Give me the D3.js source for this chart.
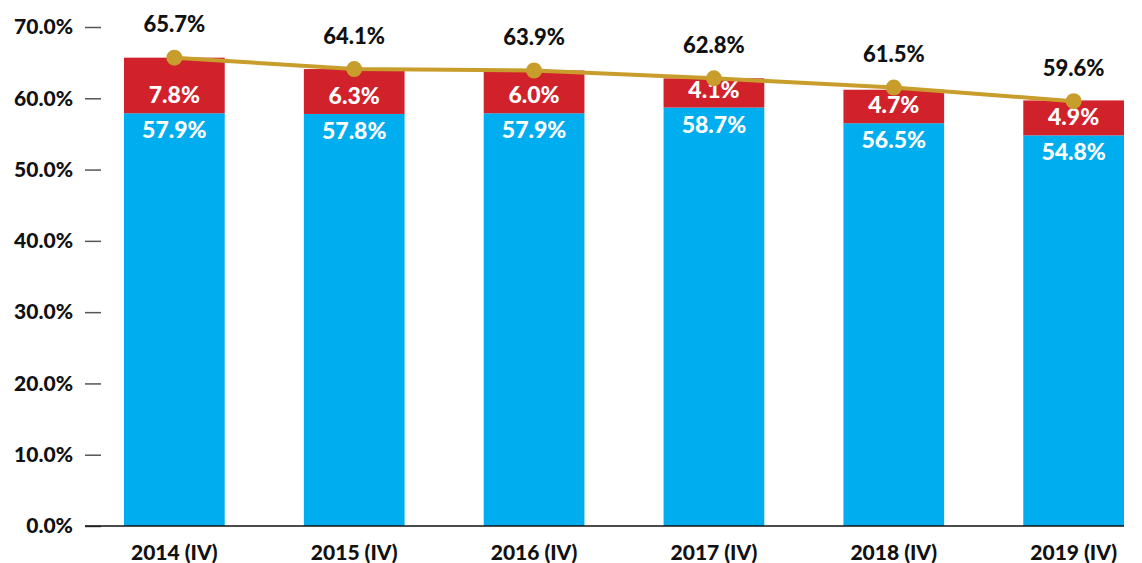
<!DOCTYPE html>
<html>
<head>
<meta charset="utf-8">
<script src="https://cdn.jsdelivr.net/npm/d3@7"></script>
<style>
  html, body { margin: 0; padding: 0; background: #fff; }
  svg { display: block; font-family: Lato, "Open Sans", sans-serif; font-weight: 900; }
</style>
</head>
<body>
<svg id="chart" width="1142" height="563"></svg>
<script>
const categories = ["2014 (IV)", "2015 (IV)", "2016 (IV)", "2017 (IV)", "2018 (IV)", "2019 (IV)"];
const baseValues = [57.9, 57.8, 57.9, 58.7, 56.5, 54.8];
const topValues = [7.8, 6.3, 6.0, 4.1, 4.7, 4.9];
const totalValues = [65.7, 64.1, 63.9, 62.8, 61.5, 59.6];
const yTicks = [0, 10, 20, 30, 40, 50, 60, 70];

const blue = "#00ADEE", red = "#D1222B", gold = "#C99D2C";
const FONT = "Lato, 'Open Sans', sans-serif";
const svg = d3.select("#chart");

const x = d3.scaleBand().domain(categories).range([124, 1124]).paddingInner(0.44).paddingOuter(0);
const y = d3.scaleLinear().domain([0, 70]).range([526, 27]);

// Y axis
const yAxis = d3.axisLeft(y).tickValues(yTicks).tickFormat(d => d.toFixed(1) + "%").tickSize(16).tickPadding(12);
const gy = svg.append("g").attr("transform", "translate(101,0)").call(yAxis);
gy.select(".domain").remove();
gy.selectAll(".tick line").attr("stroke", "#555").attr("stroke-width", 1.5);
gy.selectAll(".tick text").attr("font-size", 21).attr("fill", "#111").attr("font-weight", 900)
  .attr("font-family", FONT);

// Bars
const data = categories.map((c, i) => ({ c, base: baseValues[i], top: topValues[i], total: totalValues[i] }));
const g = svg.append("g");
g.selectAll("rect.base").data(data).join("rect").attr("class", "base")
  .attr("x", d => x(d.c)).attr("width", x.bandwidth())
  .attr("y", d => y(d.base)).attr("height", d => y(0) - y(d.base)).attr("fill", blue);
g.selectAll("rect.top").data(data).join("rect").attr("class", "top")
  .attr("x", d => x(d.c)).attr("width", x.bandwidth())
  .attr("y", d => y(d.base + d.top)).attr("height", d => y(d.base) - y(d.base + d.top)).attr("fill", red);

// X axis line
svg.append("line").attr("x1", 85).attr("x2", 1124).attr("y1", y(0)).attr("y2", y(0))
  .attr("stroke", "#111").attr("stroke-width", 1.5);

// X labels
svg.selectAll("text.xl").data(categories).join("text").attr("class", "xl")
  .attr("x", d => x(d) + x.bandwidth() / 2).attr("y", 560)
  .attr("text-anchor", "middle").attr("font-size", 21).attr("fill", "#111").text(d => d);

// Segment labels
g.selectAll("text.bl").data(data).join("text").attr("class", "bl")
  .attr("x", d => x(d.c) + x.bandwidth() / 2).attr("y", d => y(d.base) + 17)
  .attr("dy", "0.35em").attr("text-anchor", "middle").attr("font-size", 23).attr("fill", "#fff")
  .text(d => d.base.toFixed(1) + "%");
g.selectAll("text.rl").data(data).join("text").attr("class", "rl")
  .attr("x", d => x(d.c) + x.bandwidth() / 2).attr("y", d => y(d.base) - 18)
  .attr("dy", "0.35em").attr("text-anchor", "middle").attr("font-size", 23).attr("fill", "#fff")
  .text(d => d.top.toFixed(1) + "%");

// Line
const line = d3.line().x(d => x(d.c) + x.bandwidth() / 2).y(d => y(d.total));
svg.append("path").datum(data).attr("d", line).attr("fill", "none")
  .attr("stroke", gold).attr("stroke-width", 4);
svg.selectAll("circle.dot").data(data).join("circle").attr("class", "dot")
  .attr("cx", d => x(d.c) + x.bandwidth() / 2).attr("cy", d => y(d.total))
  .attr("r", 8).attr("fill", gold);

// Total labels
svg.selectAll("text.tl").data(data).join("text").attr("class", "tl")
  .attr("x", d => x(d.c) + x.bandwidth() / 2).attr("y", d => y(d.total) - 33)
  .attr("dy", "0.35em").attr("text-anchor", "middle").attr("font-size", 22).attr("fill", "#111")
  .text(d => d.total.toFixed(1) + "%");
</script>
</body>
</html>
